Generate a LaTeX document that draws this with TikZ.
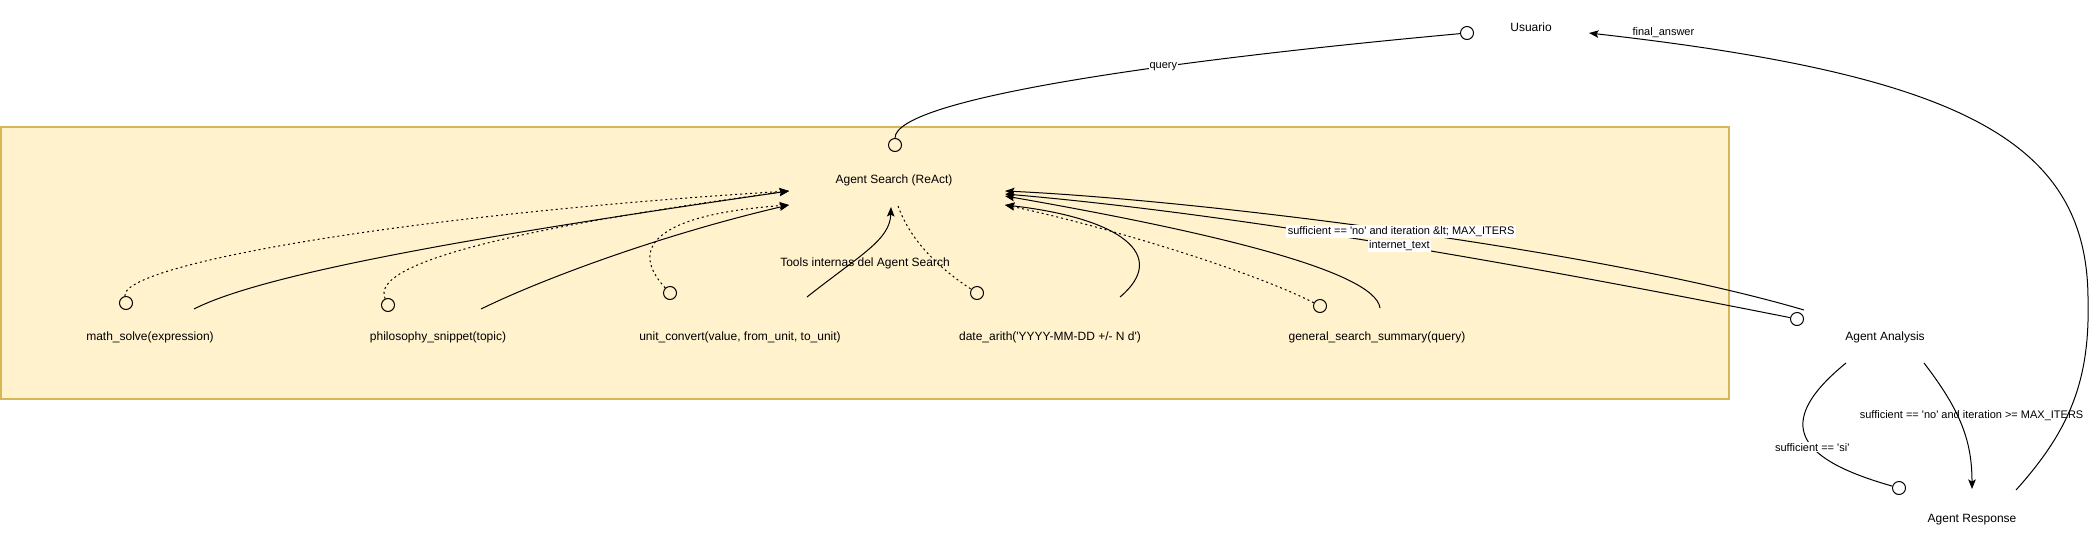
\documentclass[tikz,border=0pt]{standalone}
\usepackage{fontspec}
\setmainfont{Liberation Sans}[Ligatures=TeXOff]
\usetikzlibrary{arrows.meta,calc,positioning}
\definecolor{toolfill}{HTML}{FFF2CC}
\definecolor{toolline}{HTML}{D6B656}

\begin{document}
\begin{tikzpicture}[x=1pt,y=-1pt,line width=1pt,
    ent/.style={font=\fontsize{12}{14}\selectfont,inner sep=2pt},
    elabel/.style={font=\fontsize{11}{13}\selectfont,fill=white,inner sep=1pt},
    ring/.style={circle,draw,minimum size=13pt,inner sep=0pt},
    calls/.style={dash pattern=on 2pt off 3pt},
    arr/.style={-{Stealth[length=9.5pt,width=7.5pt,inset=2pt]}}]
  \useasboundingbox (0,0) rectangle (2090,544);
  % tools frame
  \draw[toolline,fill=toolfill,line width=1.3pt] (1,127) rectangle (1729,399);

  \node[ent] (usr)  at (1531,27)  {Usuario};
  \node[ent] (as)   at (894,180)  {Agent Search (ReAct)};
  \node[ent] (tools) at (865,263) {Tools internas del Agent Search};
  \node[ent] (math) at (150,337)  {math\_solve(expression)};
  \node[ent] (phil) at (438,337)  {philosophy\_snippet(topic)};
  \node[ent] (unit) at (740,337)  {unit\_convert(value, from\_unit, to\_unit)};
  \node[ent] (date) at (1050,337) {date\_arith('YYYY-MM-DD +/- N d')};
  \node[ent] (gen)  at (1377,337) {general\_search\_summary(query)};
  \node[ent] (ana)  at (1885,337) {Agent Analysis};
  \node[ent] (resp) at (1972,520) {Agent Response};

  % connector ends
  \node[ring] (usr-c)  at ($(usr)+(-64,6)$)   {};
  \node[ring] (as-c)   at ($(as)+(1,-35)$)    {};
  \node[ring] (math-c) at ($(math)+(-24,-34)$) {};
  \node[ring] (phil-c) at ($(phil)+(-50,-32)$) {};
  \node[ring] (unit-c) at ($(unit)+(-70,-44)$) {};
  \node[ring] (date-c) at ($(date)+(-73,-44)$) {};
  \node[ring] (gen-c)  at ($(gen)+(-57,-31)$)  {};
  \node[ring] (ana-c)  at ($(ana)+(-88,-18)$)  {};
  \node[ring] (resp-c) at ($(resp)+(-73,-32)$) {};

  % user
  \draw (as-c) .. controls (895,100) and (1150,62) .. (usr-c)
    node[elabel,pos=.65] {query};
  \draw[arr] ($(resp)+(44,-30)$) .. controls (2070,430) and (2090,380) .. (2088,300)
    .. controls (2088,140) and (1960,75) .. ($(usr)+(58,6)$)
    node[elabel,fill=none,pos=.93,above=3pt] {final\_answer};

  % tools
  \draw[calls,arr] (math-c) .. controls (120,265) and (400,215) .. ($(as)+(-105,11)$);
  \draw[arr] ($(math)+(44,-28)$) .. controls (270,270) and (520,230) .. ($(as)+(-105,11)$);
  \draw[calls,arr] (phil-c) .. controls (370,265) and (500,230) .. ($(as)+(-105,11)$);
  \draw[arr] ($(phil)+(43,-28)$) .. controls (540,280) and (660,235) .. ($(as)+(-105,25)$);
  \draw[calls,arr] (unit-c) .. controls (630,250) and (650,215) .. ($(as)+(-105,25)$);
  \draw[arr] ($(unit)+(67,-40)$) .. controls (860,255) and (890,240) .. ($(as)+(-3,27)$);
  \draw[calls] ($(as)+(4,26)$) .. controls (912,245) and (945,272) .. (date-c);
  \draw[arr] ($(date)+(70,-40)$) .. controls (1170,255) and (1120,218) .. ($(as)+(111,25)$);
  \draw[calls,arr] (gen-c) .. controls (1250,270) and (1100,225) .. ($(as)+(111,25)$);
  \draw[arr] ($(gen)+(3,-29)$) .. controls (1375,270) and (1200,230) .. ($(as)+(111,16)$);

  % analysis
  \draw[arr] (ana-c) .. controls (1550,270) and (1250,215) .. ($(as)+(111,14)$)
    node[elabel,pos=.5] {internet\_text};
  \draw[arr] ($(ana)+(-81,-27)$) .. controls (1600,250) and (1200,200) .. ($(as)+(111,11)$)
    node[elabel,pos=.5,inner sep=1.5pt] {sufficient == 'no' and iteration \&lt; MAX\_ITERS};
  \draw ($(ana)+(-39,26)$) .. controls (1770,425) and (1800,460) .. (resp-c)
    node[elabel,pos=.58] {sufficient == 'si'};
  \draw[arr] ($(ana)+(39,26)$) .. controls (1960,410) and (1972,440) .. ($(resp)+(0,-31)$)
    node[elabel,fill=none,pos=.42,xshift=14pt] {sufficient == 'no' and iteration >= MAX\_ITERS};
\end{tikzpicture}
\end{document}
